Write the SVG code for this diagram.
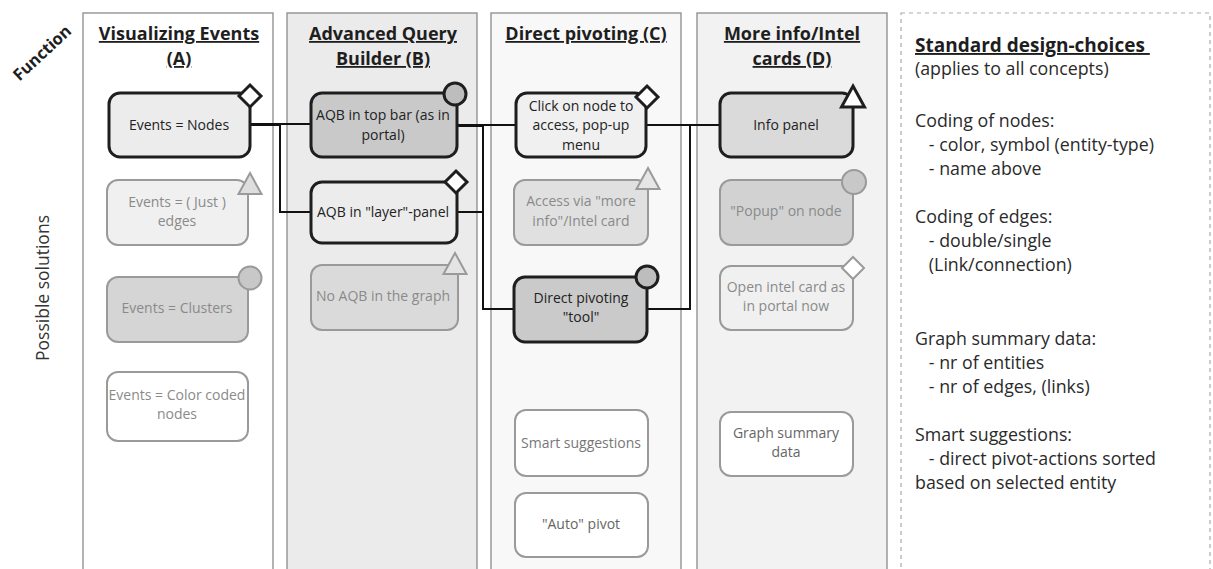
<svg xmlns="http://www.w3.org/2000/svg" width="1213" height="569" viewBox="0 0 1213 569">
  <style>
    text { font-family: "Open Sans", "Noto Sans", "DejaVu Sans", sans-serif; }
    .col { stroke: #8a8a8a; stroke-width: 1.3; }
    .head { font-size: 18px; font-weight: 700; fill: #1e1e1e; text-anchor: middle; text-decoration: underline; }
    .axis { text-anchor: middle; }
    .lbl { font-size: 14px; text-anchor: middle; }
    .dark { stroke: #1e1e1e; stroke-width: 3; }
    .soft { stroke: #9a9a9a; stroke-width: 2; }
    .tdark { fill: #222; }
    .tsoft { fill: #8a8a8a; }
    .note { font-size: 17.8px; fill: #2a2a2a; }
    .edge { fill: none; stroke: #111; stroke-width: 2; }
  </style>
  <defs>
    <path id="diamond" d="M0,-11 L11,0 L0,11 L-11,0 Z"/>
    <path id="tri" d="M0,-11 L11.5,10 L-11.5,10 Z"/>
  </defs>

  <rect width="1213" height="569" fill="#ffffff"/>

  <!-- axis labels -->
  <text class="axis" font-size="16.5" font-weight="700" fill="#1e1e1e" transform="translate(46,57) rotate(-43)">Function</text>
  <text class="axis" font-size="17.5" fill="#333" transform="translate(49,288) rotate(-90)">Possible solutions</text>

  <!-- columns -->
  <g id="col-a">
    <rect class="col" x="83" y="13" width="190" height="570" fill="#ffffff"/>
    <text class="head" x="179" y="40">Visualizing Events</text>
    <text class="head" x="179" y="65">(A)</text>
  </g>
  <g id="col-b">
    <rect class="col" x="287" y="13" width="190" height="570" fill="#ebebeb"/>
    <text class="head" x="383" y="40">Advanced Query</text>
    <text class="head" x="383" y="65">Builder (B)</text>
  </g>
  <g id="col-c">
    <rect class="col" x="491" y="13" width="190" height="570" fill="#f8f8f8"/>
    <text class="head" x="586" y="40">Direct pivoting (C)</text>
  </g>
  <g id="col-d">
    <rect class="col" x="697" y="13" width="190" height="570" fill="#f2f2f2"/>
    <text class="head" x="792" y="40">More info/Intel</text>
    <text class="head" x="792" y="65">cards (D)</text>
  </g>

  <!-- connectors -->
  <g id="connectors">
    <path class="edge" d="M251,124 H311"/>
    <path class="edge" d="M251,125 H280 V212 H311"/>
    <path class="edge" d="M458,125 H516"/>
    <path class="edge" d="M458,212 H483"/>
    <path class="edge" d="M458,126 H483 V309 H514"/>
    <path class="edge" d="M646,125 H720"/>
    <path class="edge" d="M647,309 H690 V125"/>
  </g>

  <!-- column A nodes -->
  <g id="a1">
    <rect class="dark" x="109" y="93" width="141" height="64" rx="11" fill="#ececec"/>
    <use href="#diamond" class="dark" x="250" y="96" fill="#ffffff"/>
    <text class="lbl tdark" x="179" y="130">Events = Nodes</text>
  </g>
  <g id="a2">
    <rect class="soft" x="107" y="180" width="141" height="65" rx="11" fill="#f0f0f0"/>
    <use href="#tri" class="soft" x="250" y="184" fill="#dedede"/>
    <text class="lbl tsoft" x="177" y="207">Events = ( Just )</text>
    <text class="lbl tsoft" x="177" y="226">edges</text>
  </g>
  <g id="a3">
    <rect class="soft" x="107" y="277" width="141" height="65" rx="11" fill="#d5d5d5"/>
    <circle class="soft" cx="250" cy="278" r="11.5" fill="#c8c8c8"/>
    <text class="lbl tsoft" x="177" y="313">Events = Clusters</text>
  </g>
  <g id="a4">
    <rect class="soft" x="107" y="372" width="141" height="69" rx="11" fill="#ffffff" stroke="#8a8a8a"/>
    <text class="lbl tsoft" x="177" y="400">Events = Color coded</text>
    <text class="lbl tsoft" x="177" y="419">nodes</text>
  </g>

  <!-- column B nodes -->
  <g id="b1">
    <rect class="dark" x="311" y="93" width="146" height="64" rx="11" fill="#c9c9c9"/>
    <circle class="dark" cx="455" cy="94" r="11" fill="#bdbdbd"/>
    <text class="lbl tdark" x="383" y="120">AQB in top bar (as in</text>
    <text class="lbl tdark" x="383" y="140">portal)</text>
  </g>
  <g id="b2">
    <rect class="dark" x="311" y="182" width="146" height="61" rx="11" fill="#ececec"/>
    <use href="#diamond" class="dark" x="456" y="182" fill="#ffffff"/>
    <text class="lbl tdark" x="383" y="217">AQB in "layer"-panel</text>
  </g>
  <g id="b3">
    <rect class="soft" x="311" y="265" width="147" height="65" rx="11" fill="#dadada"/>
    <use href="#tri" class="soft" x="455" y="264" fill="#e4e4e4"/>
    <text class="lbl tsoft" x="383" y="301">No AQB in the graph</text>
  </g>

  <!-- column C nodes -->
  <g id="c1">
    <rect class="dark" x="516" y="93" width="130" height="64" rx="11" fill="#f0f0f0"/>
    <use href="#diamond" class="dark" x="647" y="97" fill="#ffffff"/>
    <text class="lbl tdark" x="581" y="111">Click on node to</text>
    <text class="lbl tdark" x="581" y="130">access, pop-up</text>
    <text class="lbl tdark" x="581" y="150">menu</text>
  </g>
  <g id="c2">
    <rect class="soft" x="514" y="180" width="134" height="65" rx="11" fill="#e0e0e0"/>
    <use href="#tri" class="soft" x="648" y="179" fill="#e6e6e6"/>
    <text class="lbl tsoft" x="581" y="206">Access via "more</text>
    <text class="lbl tsoft" x="581" y="226">info"/Intel card</text>
  </g>
  <g id="c3">
    <rect class="dark" x="514" y="277" width="133" height="65" rx="11" fill="#cacaca"/>
    <circle class="dark" cx="647" cy="277" r="11" fill="#bdbdbd"/>
    <text class="lbl tdark" x="581" y="303">Direct pivoting</text>
    <text class="lbl tdark" x="581" y="322">"tool"</text>
  </g>
  <g id="c4">
    <rect class="soft" x="515" y="410" width="133" height="66" rx="11" fill="#ffffff" stroke="#8a8a8a"/>
    <text class="lbl" fill="#777" x="581" y="448">Smart suggestions</text>
  </g>
  <g id="c5">
    <rect class="soft" x="515" y="493" width="133" height="64" rx="11" fill="#ffffff" stroke="#8a8a8a"/>
    <text class="lbl" fill="#666" x="581" y="529">"Auto" pivot</text>
  </g>

  <!-- column D nodes -->
  <g id="d1">
    <rect class="dark" x="720" y="93" width="133" height="64" rx="11" fill="#dadada"/>
    <use href="#tri" class="dark" x="853" y="97" fill="#ffffff"/>
    <text class="lbl tdark" x="786" y="130">Info panel</text>
  </g>
  <g id="d2">
    <rect class="soft" x="720" y="180" width="133" height="65" rx="11" fill="#d2d2d2"/>
    <circle class="soft" cx="854" cy="182" r="12" fill="#c8c8c8"/>
    <text class="lbl tsoft" x="786" y="216">"Popup" on node</text>
  </g>
  <g id="d3">
    <rect class="soft" x="720" y="266" width="133" height="64" rx="11" fill="#f0f0f0"/>
    <use href="#diamond" class="soft" x="853" y="268" fill="#ffffff"/>
    <text class="lbl tsoft" x="786" y="292">Open intel card as</text>
    <text class="lbl tsoft" x="786" y="311">in portal now</text>
  </g>
  <g id="d4">
    <rect class="soft" x="720" y="412" width="133" height="64" rx="11" fill="#ffffff" stroke="#8a8a8a"/>
    <text class="lbl" fill="#666" x="786" y="438">Graph summary</text>
    <text class="lbl" fill="#666" x="786" y="457">data</text>
  </g>

  <!-- design notes panel -->
  <g id="notes">
    <rect x="901" y="13" width="309" height="600" fill="none" stroke="#aaa" stroke-width="1.2" stroke-dasharray="4,4"/>
    <text x="915" y="52" font-size="19" font-weight="700" fill="#1e1e1e" text-decoration="underline" xml:space="preserve">Standard design-choices </text>
    <text class="note" x="915" y="75">(applies to all concepts)</text>
    <text class="note" x="915" y="127">Coding of nodes:</text>
    <text class="note" x="915" y="151" xml:space="preserve">   - color, symbol (entity-type)</text>
    <text class="note" x="915" y="175" xml:space="preserve">   - name above</text>
    <text class="note" x="915" y="223">Coding of edges:</text>
    <text class="note" x="915" y="247" xml:space="preserve">   - double/single</text>
    <text class="note" x="915" y="271" xml:space="preserve">   (Link/connection)</text>
    <text class="note" x="915" y="345">Graph summary data:</text>
    <text class="note" x="915" y="369" xml:space="preserve">   - nr of entities</text>
    <text class="note" x="915" y="393" xml:space="preserve">   - nr of edges, (links)</text>
    <text class="note" x="915" y="441">Smart suggestions:</text>
    <text class="note" x="915" y="465" xml:space="preserve">   - direct pivot-actions sorted</text>
    <text class="note" x="915" y="489">based on selected entity</text>
  </g>
</svg>
